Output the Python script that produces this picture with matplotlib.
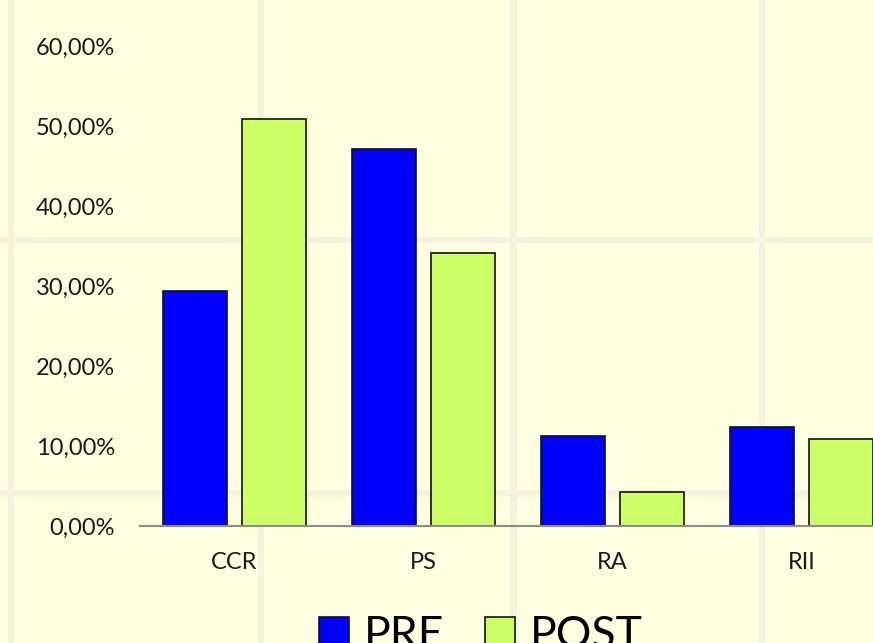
import matplotlib
matplotlib.use("Agg")
import matplotlib.pyplot as plt
from matplotlib.patches import Rectangle
from matplotlib.ticker import FuncFormatter
import numpy as np

categories = ["CCR", "PS", "RA", "RII"]
pre = [29.4, 47.1, 11.25, 12.4]
post = [50.9, 34.1, 4.25, 10.9]
series_names = ["PRE", "POST"]
yticks = [0, 10, 20, 30, 40, 50, 60]

W, H = 873, 643
fig = plt.figure(figsize=(W / 100, H / 100), dpi=100)
bg = "#FEFEE1"
fig.patch.set_facecolor(bg)

# faint background texture stripes
stripe = "#F5F3DF"
for xc, w in [(11, 6), (261, 6), (513, 7), (762, 6)]:
    fig.add_artist(Rectangle(((xc - w / 2) / W, 0), w / W, 1, transform=fig.transFigure,
                             facecolor=stripe, edgecolor="none", zorder=0))
for yc, h in [(240, 6), (493, 7)]:
    fig.add_artist(Rectangle((0, 1 - (yc + h / 2) / H), 1, h / H, transform=fig.transFigure,
                             facecolor=stripe, edgecolor="none", zorder=0))

left, right = 140, 896
top, bottom = 46, 526
ax = fig.add_axes([left / W, (H - bottom) / H, (right - left) / W, (bottom - top) / H])
ax.set_facecolor("none")
ax.set_zorder(1)

font = "Lato"
x = np.arange(len(categories))
bw = 0.338
off = 0.21
ax.bar(x - off, pre, bw, color="#0000FF", edgecolor="#111111", linewidth=1.2, label=series_names[0], zorder=3)
ax.bar(x + off, post, bw, color="#CCFF66", edgecolor="#111111", linewidth=1.2, label=series_names[1], zorder=3)

ax.set_xlim(-0.5, len(categories) - 0.5)
ax.set_ylim(0, 60)
ax.set_yticks(yticks)
ax.yaxis.set_major_formatter(FuncFormatter(lambda v, p: f"{v:.2f}".replace(".", ",") + "%"))
ax.set_xticks(x)
ax.set_xticklabels(categories)
for s in ["top", "right", "left"]:
    ax.spines[s].set_visible(False)
ax.spines["bottom"].set_color("#8C8C8C")
ax.spines["bottom"].set_linewidth(1.5)
ax.spines["bottom"].set_zorder(4)
ax.tick_params(axis="y", length=0, pad=18, labelsize=17, labelcolor="#1a1a1a")
ax.tick_params(axis="x", length=0, pad=19, labelsize=17, labelcolor="#1a1a1a")
for lab in ax.get_xticklabels() + ax.get_yticklabels():
    lab.set_fontfamily(font)

leg = fig.legend(loc="center", bbox_to_anchor=(481 / W, 8 / H), ncol=2, frameon=False,
                 prop={"family": font, "size": 32}, handlelength=0.68, handleheight=0.68,
                 handletextpad=0.34, columnspacing=0.9)

fig.savefig("out.png", dpi=100, facecolor=bg)
